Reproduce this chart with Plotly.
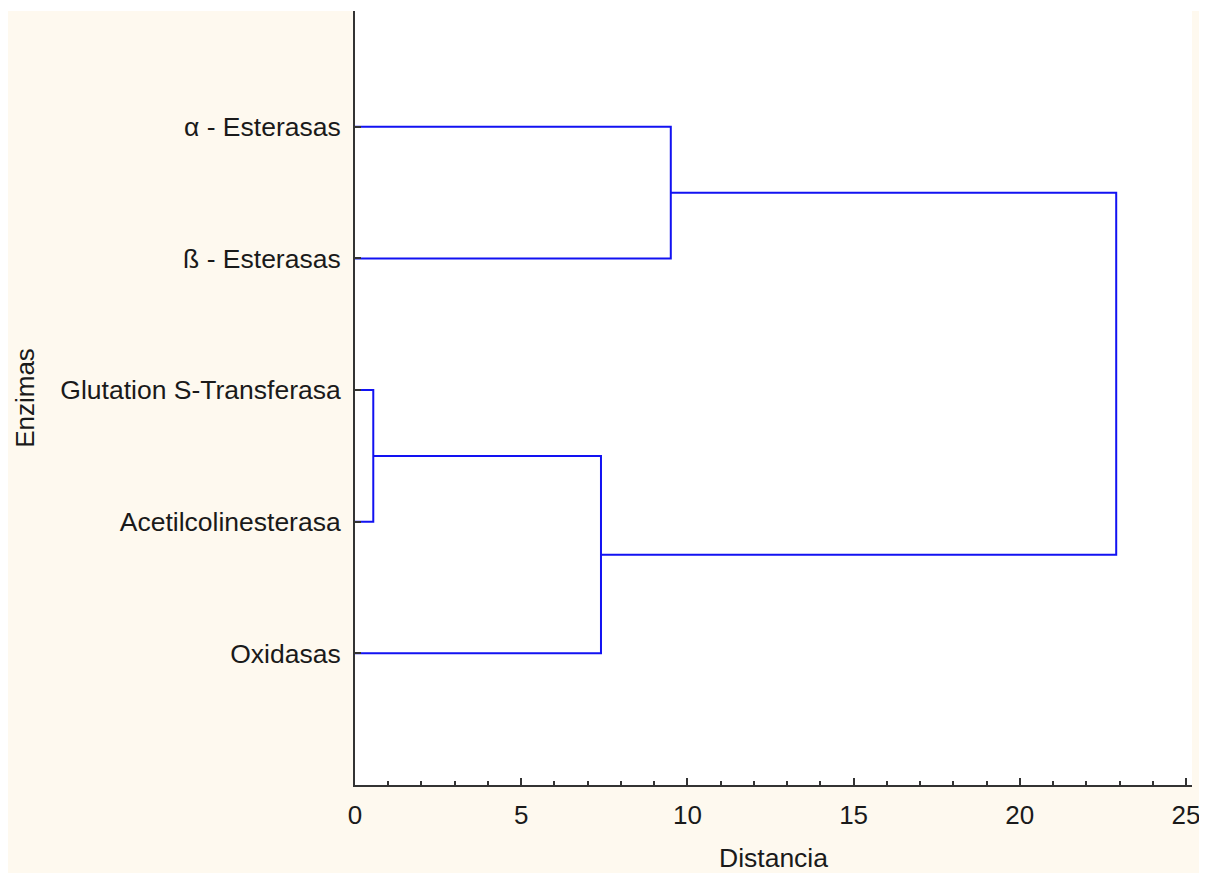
import plotly.graph_objects as go

# Leaves (top to bottom)
labels = ["α - Esterasas", "ß - Esterasas", "Glutation S-Transferasa",
          "Acetilcolinesterasa", "Oxidasas"]
# Linkage steps: (left node, right node, distance); nodes 0-4 leaves, 5+ clusters
merge_left = [2, 0, 5, 6]
merge_right = [3, 1, 4, 7]
merge_dist = [0.55, 9.5, 7.4, 22.9]

x_ticks = [0, 5, 10, 15, 20, 25]

BLUE = "#1212f2"
TEXT = "#1a1a1a"
CREAM = "#fef9ef"

# node positions
pos = {i: (0.0, 5 - i) for i in range(len(labels))}
xs, ys = [], []
for k, (a, b, d) in enumerate(zip(merge_left, merge_right, merge_dist)):
    xa, ya = pos[a]
    xb, yb = pos[b]
    xs += [xa, d, d, xb, None]
    ys += [ya, ya, yb, yb, None]
    pos[len(labels) + k] = (d, (ya + yb) / 2)

fig = go.Figure()
fig.add_trace(go.Scatter(x=xs, y=ys, mode="lines",
                         line=dict(color=BLUE, width=2), hoverinfo="skip",
                         showlegend=False))

W, H = 1199, 865
L, R, T, B = 347, 15, 3, 88
pw, ph = W - L - R, H - T - B

fig.update_layout(
    width=W, height=H,
    margin=dict(l=L, r=R, t=T, b=B, pad=0),
    paper_bgcolor=CREAM, plot_bgcolor="white",
    font=dict(family="Liberation Sans, Arial, sans-serif", size=26, color=TEXT),
    showlegend=False,
    xaxis=dict(range=[0, 25.18], tickvals=x_ticks, ticks="inside", ticklen=7,
               tickwidth=2, tickcolor="#333", showline=True, linecolor="#333",
               linewidth=2, showgrid=False, zeroline=False,
               ticklabelstandoff=6,
               minor=dict(dtick=1, ticks="inside", ticklen=4, tickwidth=2,
                          tickcolor="#333", showgrid=False),
               title=dict(text="Distancia", standoff=19,
                          font=dict(size=26.5, color=TEXT))),
    yaxis=dict(range=[0, 5.88], tickvals=[5 - i for i in range(len(labels))],
               ticktext=labels, ticks="inside", ticklen=6, tickwidth=2,
               tickcolor="#333", showline=True, linecolor="#333", linewidth=2,
               showgrid=False, zeroline=False, ticklabelstandoff=7,
               tickfont=dict(size=26.5),
               title=dict(text="Enzimas", standoff=18,
                          font=dict(size=26, color=TEXT))),
    shapes=[
        # thin white strip above the cream panel
        dict(type="rect", xref="paper", yref="paper",
             x0=-L / pw - 0.01, x1=(W - L) / pw + 0.01, y0=1, y1=(H - B) / ph + 0.01,
             fillcolor="white", line=dict(width=0), layer="above"),
    ],
)

fig.write_html("out.html", config={"displayModeBar": False})
